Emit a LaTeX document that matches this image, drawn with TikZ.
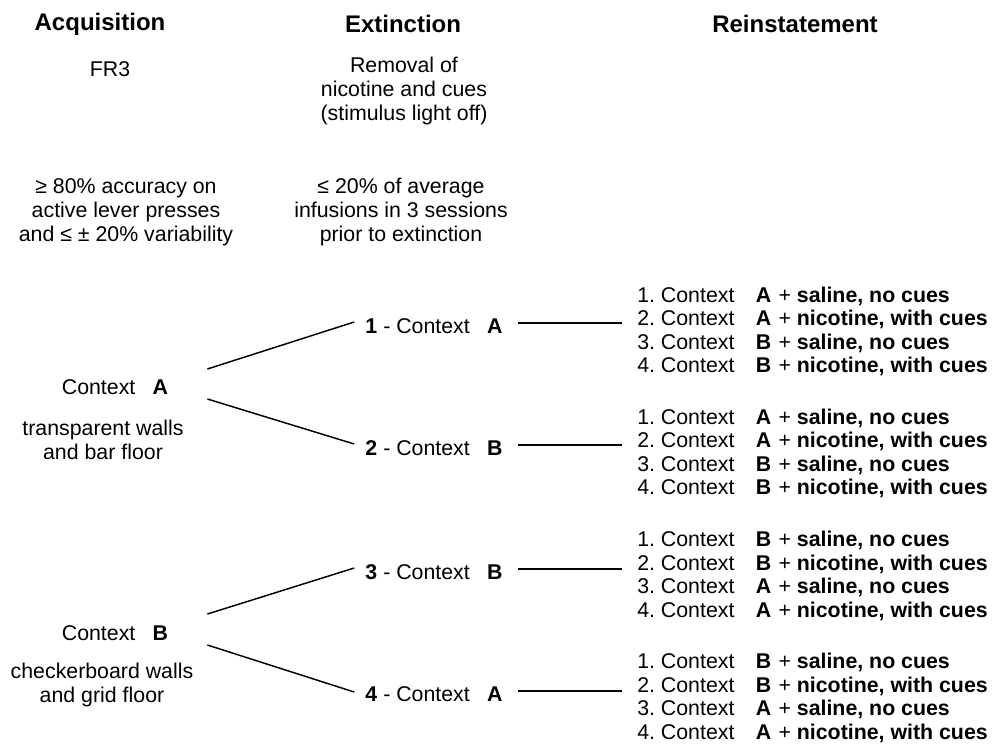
\documentclass[tikz,border=0pt]{standalone}
\usepackage{fontspec}
\setmainfont{Liberation Sans}
\usetikzlibrary{positioning}
\frenchspacing
\newcommand{\reinrow}[3]{#1. Context\hspace{16pt}\textbf{#2}\hspace{1pt} + \textbf{#3}}
\newcommand{\extlabel}[2]{\textbf{#1} - Context\hspace{13pt}\textbf{#2}}

\begin{document}
\begin{tikzpicture}[
    x=0.75pt, y=-0.75pt,
    header/.style={font=\fontsize{18}{22}\selectfont\bfseries, inner sep=0pt},
    txt/.style={font=\fontsize{16}{18}\selectfont, align=center, inner sep=0pt},
    row/.style={txt, anchor=west},
    link/.style={line width=1.1pt}
]
\useasboundingbox (0,0) rectangle (1002,747);

% column headers
\node[header] (hacq) at (100,24) {Acquisition};
\node[header] (hext) at (403,24) {Extinction};
\node[header] (hrein) at (795,24) {Reinstatement};

% conditions
\node[txt] (fr3) at (110,69) {FR3};
\node[txt] (removal) at (404,91) {Removal of\\nicotine and cues\\(stimulus light off)};
\node[txt] (accuracy) at (126,212) {≥ 80\% accuracy on\\active lever presses\\and ≤ ± 20\% variability};
\node[txt] (criterion) at (401,212) {≤ 20\% of average\\infusions in 3 sessions\\prior to extinction};

% acquisition contexts
\node[txt] (ctxA) at (115,387) {Context\hspace{13pt}\textbf{A}};
\node[txt] (descA) at (103,440) {transparent walls\\and bar floor};
\node[txt] (ctxB) at (115,633) {Context\hspace{13pt}\textbf{B}};
\node[txt] (descB) at (102,685) {checkerboard walls\\and grid floor};

% extinction contexts
\node[txt] (ext1) at (434,326) {\extlabel{1}{A}};
\node[txt] (ext2) at (434,448) {\extlabel{2}{B}};
\node[txt] (ext3) at (434,572) {\extlabel{3}{B}};
\node[txt] (ext4) at (434,694) {\extlabel{4}{A}};

% reinstatement tests
\foreach \g/\yy/\P/\Q in {1/0/A/B, 2/1/A/B, 3/2/B/A, 4/3/B/A} {
    \node[row] (r\g-1) at (637,296+122.3*\yy) {\reinrow{1}{\P}{saline, no cues}};
    \node[row] (r\g-2) at (637,319.5+122.3*\yy) {\reinrow{2}{\P}{nicotine, with cues}};
    \node[row] (r\g-3) at (637,343+122.3*\yy) {\reinrow{3}{\Q}{saline, no cues}};
    \node[row] (r\g-4) at (637,366.5+122.3*\yy) {\reinrow{4}{\Q}{nicotine, with cues}};
    \draw[link] ([shift={(15,-3)}]ext\g.east) -- ([shift={(-15,-3)}]ext\g.east -| r\g-2.west);
}

% branches
\draw[link] ([shift={(39,-18)}]ctxA.east) -- ([shift={(-11,-4)}]ext1.west);
\draw[link] ([shift={(39,12)}]ctxA.east) -- ([shift={(-11,-4)}]ext2.west);
\draw[link] ([shift={(39,-19)}]ctxB.east) -- ([shift={(-11,-4)}]ext3.west);
\draw[link] ([shift={(39,12)}]ctxB.east) -- ([shift={(-11,-2)}]ext4.west);
\end{tikzpicture}
\end{document}
